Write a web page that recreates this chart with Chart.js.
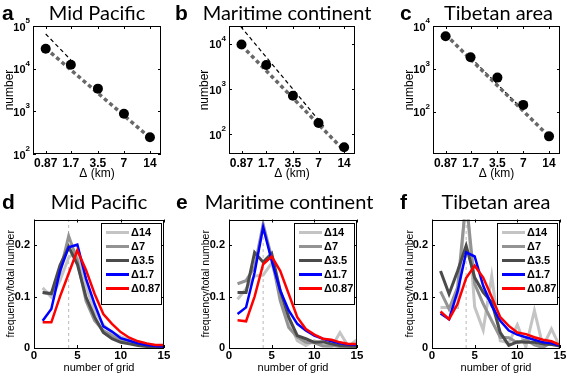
<!DOCTYPE html>
<html>
<head>
<meta charset="utf-8">
<title>Cloud number and size distribution</title>
<script src="https://cdn.jsdelivr.net/npm/chart.js@4.4.1/dist/chart.umd.min.js"></script>
<style>
  html, body { margin: 0; padding: 0; background: #fff; }
  #page { position: relative; width: 567px; height: 376px; overflow: hidden; background: #fff; }
  canvas { position: absolute; }
</style>
</head>
<body>
<div id="page">
  <canvas id="chart_a" width="172" height="180" style="left:0px;top:0px"></canvas>
  <canvas id="chart_b" width="210" height="180" style="left:172px;top:0px"></canvas>
  <canvas id="chart_c" width="205" height="180" style="left:362px;top:0px"></canvas>
  <canvas id="chart_d" width="172" height="196" style="left:0px;top:180px"></canvas>
  <canvas id="chart_e" width="210" height="196" style="left:172px;top:180px"></canvas>
  <canvas id="chart_f" width="205" height="196" style="left:362px;top:180px"></canvas>
</div>
<script>
// ---- top row: number of clouds against grid spacing ----
const delta_km = [0.87, 1.7, 3.5, 7, 14];
const delta_labels = ['0.87', '1.7', '3.5', '7', '14'];
const decades = [10, 100, 1000, 10000, 100000];

const number_mid_pacific = [29400, 12400, 3400, 880, 247];
const number_maritime = [9700, 3400, 710, 175, 51];
const number_tibet = [5800, 1880, 630, 146, 27];

// thick grey fitted line, value at 0.87 and at 14
const fit_delta = [0.87, 14];
const fit_mid_pacific = [30000, 240];
const fit_maritime = [9300, 43];
const fit_tibet = [6300, 27];

// thin black reference line
const ref_delta_mid_pacific = [0.87, 1.7];
const ref_mid_pacific = [65000, 16000];
const ref_delta_maritime = [0.85, 8.3];
const ref_maritime = [24500, 140];
const ref_delta_tibet = [1.7, 7];
const ref_tibet = [1850, 110];

const yrange_mid_pacific = [100, 100000];
const yrange_maritime = [36, 25100];
const yrange_tibet = [10.5, 10000];

// ---- bottom row: frequency against number of grid ----
const grid_number = [1, 2, 3, 4, 5, 6, 7, 8, 9, 10, 11, 12, 13, 14, 15];
const grid_ticks = [0, 5, 10, 15];
const freq_ticks = [0, 0.1, 0.2];
const freq_tick_labels = ['0', '0.1', '0.2'];
const freq_max = 0.25;
const peak_grid = 4;
const series_labels = ['\u039414', '\u03947', '\u03943.5', '\u03941.7', '\u03940.87'];

const mp_d14 = [0.117, 0.099, 0.131, 0.176, 0.19, 0.12, 0.072, 0.045, 0.03, 0.022, 0.016, 0.012, 0.008, 0.005, 0.0];
const mp_d7 = [0.108, 0.105, 0.147, 0.218, 0.17, 0.092, 0.053, 0.034, 0.024, 0.016, 0.011, 0.008, 0.006, 0.004, 0.002];
const mp_d35 = [0.108, 0.106, 0.161, 0.197, 0.163, 0.099, 0.06, 0.03, 0.018, 0.011, 0.008, 0.005, 0.003, 0.002, 0.002];
const mp_d17 = [0.053, 0.076, 0.15, 0.196, 0.201, 0.135, 0.085, 0.042, 0.032, 0.019, 0.014, 0.009, 0.006, 0.004, 0.003];
const mp_d087 = [0.05, 0.05, 0.10, 0.145, 0.19, 0.152, 0.105, 0.066, 0.047, 0.031, 0.02, 0.013, 0.009, 0.006, 0.006];

const mc_d14 = [0.095, 0.115, 0.14, 0.142, 0.165, 0.11, 0.053, 0.014, 0.005, 0.014, 0.005, 0.001, 0.03, 0.003, 0.016];
const mc_d7 = [0.125, 0.131, 0.157, 0.241, 0.176, 0.092, 0.04, 0.021, 0.011, 0.01, 0.004, 0.005, 0.003, 0.002, 0.005];
const mc_d35 = [0.108, 0.108, 0.186, 0.167, 0.184, 0.112, 0.06, 0.024, 0.018, 0.011, 0.012, 0.008, 0.005, 0.004, 0.003];
const mc_d17 = [0.066, 0.079, 0.147, 0.235, 0.17, 0.112, 0.073, 0.047, 0.034, 0.024, 0.018, 0.013, 0.009, 0.007, 0.006];
const mc_d087 = [0.054, 0.052, 0.10, 0.163, 0.178, 0.15, 0.105, 0.06, 0.037, 0.026, 0.018, 0.016, 0.011, 0.008, 0.008];

const tb_d14 = [0.079, 0.079, 0.079, 0.30, 0.08, 0.035, 0.14, 0.014, 0.01, 0.045, 0.002, 0.073, 0.003, 0.037, 0.002];
const tb_d7 = [0.11, 0.076, 0.118, 0.29, 0.125, 0.086, 0.053, 0.021, 0.02, 0.01, 0.016, 0.006, 0.001, 0.011, 0.003];
const tb_d35 = [0.15, 0.105, 0.15, 0.199, 0.137, 0.108, 0.089, 0.03, 0.005, 0.012, 0.011, 0.011, 0.008, 0.007, 0.004];
const tb_d17 = [0.067, 0.056, 0.11, 0.186, 0.178, 0.121, 0.082, 0.053, 0.034, 0.026, 0.021, 0.016, 0.011, 0.009, 0.005];
const tb_d087 = [0.071, 0.056, 0.086, 0.136, 0.16, 0.137, 0.099, 0.06, 0.043, 0.03, 0.027, 0.021, 0.016, 0.013, 0.006];

const FONT_AXIS = '"Liberation Sans", Arial, "DejaVu Sans", sans-serif';
const FONT_TITLE = 'Lato, "Open Sans", sans-serif';
const series_colors = ['#c4c4c4', '#939393', '#4b4b4b', '#0000ff', '#ff0000'];

function xy(xs, ys) {
  return xs.map((x, i) => ({x: x, y: ys[i]}));
}

// box, inward ticks, power-of-ten labels, panel letter and title
const panel_frame = {
  id: 'panel_frame',
  afterDraw(chart, args, opts) {
    const ctx = chart.ctx;
    const a = chart.chartArea;
    const sx = chart.scales.x, sy = chart.scales.y;
    ctx.save();
    ctx.strokeStyle = '#000';
    ctx.lineWidth = 1;
    ctx.beginPath();
    sx.ticks.forEach(t => {
      const px = Math.round(sx.getPixelForValue(t.value)) + 0.5;
      ctx.moveTo(px, a.bottom); ctx.lineTo(px, a.bottom - 3);
      ctx.moveTo(px, a.top); ctx.lineTo(px, a.top + 3);
    });
    sy.ticks.forEach(t => {
      const py = Math.round(sy.getPixelForValue(t.value)) + 0.5;
      ctx.moveTo(a.left, py); ctx.lineTo(a.left + 3, py);
      ctx.moveTo(a.right, py); ctx.lineTo(a.right - 3, py);
    });
    ctx.stroke();
    ctx.strokeRect(Math.round(a.left) + 0.5, Math.round(a.top) + 0.5,
                   Math.round(a.right - a.left) - 1, Math.round(a.bottom - a.top) - 1);

    ctx.fillStyle = '#000';
    if (opts.power_labels) {
      sy.ticks.forEach(t => {
        const py = sy.getPixelForValue(t.value);
        const expo = String(Math.round(Math.log10(t.value)));
        ctx.font = 'bold 8px ' + FONT_AXIS;
        const we = ctx.measureText(expo).width;
        ctx.textAlign = 'right';
        ctx.textBaseline = 'alphabetic';
        ctx.fillText(expo, a.left - 3, py - 3);
        ctx.font = 'bold 11px ' + FONT_AXIS;
        ctx.fillText('10', a.left - 3 - we, py + 4.5);
      });
    }

    ctx.textBaseline = 'alphabetic';
    ctx.textAlign = 'left';
    ctx.font = 'bold 21px ' + FONT_AXIS;
    ctx.fillText(opts.letter, opts.letter_x, opts.baseline);
    ctx.textAlign = 'center';
    ctx.font = '20px ' + FONT_TITLE;
    ctx.fillText(opts.title, (a.left + a.right) / 2 + opts.title_dx, opts.baseline);
    ctx.restore();
  }
};

// legend in a box, top right of the plot
const box_legend = {
  id: 'box_legend',
  afterDatasetsDraw(chart) {
    const ctx = chart.ctx;
    const a = chart.chartArea;
    const items = chart.data.datasets.filter(d => d.label);
    const w = 60, row = 14, h = items.length * row + 11;
    const x0 = Math.round(a.right - w - 3), y0 = Math.round(a.top + 3);
    ctx.save();
    ctx.fillStyle = '#fff';
    ctx.fillRect(x0, y0, w, h);
    ctx.strokeStyle = '#000';
    ctx.lineWidth = 1;
    ctx.strokeRect(x0 + 0.5, y0 + 0.5, w, h);
    ctx.font = 'bold 11px ' + FONT_AXIS;
    ctx.textBaseline = 'middle';
    items.forEach((d, i) => {
      const y = y0 + 9.5 + i * row;
      ctx.strokeStyle = d.borderColor;
      ctx.lineWidth = 3;
      ctx.beginPath();
      ctx.moveTo(x0 + 5, y); ctx.lineTo(x0 + 28, y);
      ctx.stroke();
      ctx.fillStyle = '#000';
      ctx.fillText(d.label, x0 + 30, y);
    });
    ctx.restore();
  }
};

function create_number_chart(canvas_id, p) {
  const data = {
    datasets: [
      { data: xy(delta_km, p.counts), showLine: false, pointRadius: 5, pointBackgroundColor: '#000',
        pointBorderWidth: 0, order: 1 },
      { data: xy(fit_delta, p.fit), borderColor: '#686868', borderWidth: 3.5, borderDash: [4, 3],
        pointRadius: 0, order: 2 },
      { data: xy(p.ref_x, p.ref_y), borderColor: '#000', borderWidth: 1.2, borderDash: [4, 3],
        pointRadius: 0, order: 3 }
    ]
  };

  const config = {
    type: 'line',
    data,
    options: {
      responsive: false,
      animation: false,
      events: [],
      layout: { padding: { top: 26, right: p.right, left: 0, bottom: 0 } },
      plugins: {
        legend: { display: false },
        tooltip: { enabled: false },
        panel_frame: { letter: p.letter, letter_x: p.letter_x, title: p.title, title_dx: p.title_dx,
                       baseline: 19.5, power_labels: true }
      },
      scales: {
        x: {
          type: 'logarithmic', min: 0.62, max: 18.8, bounds: 'data',
          afterBuildTicks: axis => { axis.ticks = delta_km.map(v => ({value: v})); },
          afterFit: axis => { axis.height = 26; axis.paddingLeft = 0; axis.paddingRight = 0; },
          grid: { display: false, drawTicks: false },
          border: { display: false },
          ticks: { autoSkip: false, maxRotation: 0, padding: 2.5, color: '#000',
                   font: { family: FONT_AXIS, size: 12, weight: 'bold' },
                   callback: (v, i) => delta_labels[i] },
          title: { display: true, text: '\u0394 (km)', color: '#000', padding: { top: 0, bottom: 0 },
                   font: { family: FONT_AXIS, size: 12, lineHeight: 1 } }
        },
        y: {
          type: 'logarithmic', min: p.yrange[0], max: p.yrange[1], bounds: 'data',
          afterBuildTicks: axis => {
            axis.ticks = decades.filter(v => v >= p.yrange[0] && v <= p.yrange[1]).map(v => ({value: v}));
          },
          afterFit: axis => { axis.width = p.yaxis; axis.paddingTop = 0; axis.paddingBottom = 0; },
          grid: { display: false, drawTicks: false },
          border: { display: false },
          ticks: { display: false },
          title: { display: true, text: 'number', color: '#000', padding: { top: p.title_pad, bottom: 0 },
                   font: { family: FONT_AXIS, size: 12, lineHeight: 1 } }
        }
      }
    },
    plugins: [panel_frame]
  };

  const canv = document.getElementById(canvas_id);
  new Chart(canv.getContext('2d'), config);
}

function create_freq_chart(canvas_id, p) {
  const datasets = p.series.map((vals, i) => ({
    label: series_labels[i],
    data: xy(grid_number, vals),
    borderColor: series_colors[i],
    borderWidth: i < 3 ? 3 : 2.5,
    pointRadius: 0,
    order: p.series.length - i
  }));
  datasets.push({
    label: '',
    data: xy([peak_grid, peak_grid], [0, freq_max]),
    borderColor: '#b9b9b9', borderWidth: 1, borderDash: [3, 3], pointRadius: 0, order: 10
  });

  const config = {
    type: 'line',
    data: { datasets },
    options: {
      responsive: false,
      animation: false,
      events: [],
      layout: { padding: { top: 39.5, right: p.right, left: 0, bottom: 0 } },
      plugins: {
        legend: { display: false },
        tooltip: { enabled: false },
        panel_frame: { letter: p.letter, letter_x: p.letter_x, title: p.title, title_dx: p.title_dx,
                       baseline: 28.5, power_labels: false }
      },
      scales: {
        x: {
          type: 'linear', min: 0, max: 15, bounds: 'data',
          afterBuildTicks: axis => { axis.ticks = grid_ticks.map(v => ({value: v})); },
          afterFit: axis => { axis.height = 28; axis.paddingLeft = 0; axis.paddingRight = 0; },
          grid: { display: false, drawTicks: false },
          border: { display: false },
          ticks: { autoSkip: false, maxRotation: 0, padding: 0.5, color: '#000',
                   font: { family: FONT_AXIS, size: 11.5, weight: 'bold' },
                   callback: (v, i) => String(grid_ticks[i]) },
          title: { display: true, text: 'number of grid', color: '#000', padding: { top: 0, bottom: 2.5 },
                   font: { family: FONT_AXIS, size: 11, lineHeight: 1 } }
        },
        y: {
          type: 'linear', min: 0, max: freq_max, bounds: 'data',
          afterBuildTicks: axis => { axis.ticks = freq_ticks.map(v => ({value: v})); },
          afterFit: axis => { axis.width = p.yaxis; axis.paddingTop = 0; axis.paddingBottom = 0; },
          grid: { display: false, drawTicks: false },
          border: { display: false },
          ticks: { autoSkip: false, padding: 4, color: '#000',
                   font: { family: FONT_AXIS, size: 11, weight: 'bold' },
                   callback: (v, i) => freq_tick_labels[i] },
          title: { display: true, text: 'frequency/total number', color: '#000',
                   padding: { top: p.title_pad, bottom: 0 },
                   font: { family: FONT_AXIS, size: 10.5, lineHeight: 1 } }
        }
      }
    },
    plugins: [panel_frame, box_legend]
  };

  const canv = document.getElementById(canvas_id);
  new Chart(canv.getContext('2d'), config);
}

create_number_chart('chart_a', { letter: 'a', letter_x: 2, title: 'Mid Pacific', title_dx: 0,
  counts: number_mid_pacific, fit: fit_mid_pacific, ref_x: ref_delta_mid_pacific, ref_y: ref_mid_pacific,
  yrange: yrange_mid_pacific, yaxis: 33, right: 11, title_pad: 4 });
create_number_chart('chart_b', { letter: 'b', letter_x: 3, title: 'Maritime continent', title_dx: -5,
  counts: number_maritime, fit: fit_maritime, ref_x: ref_delta_maritime, ref_y: ref_maritime,
  yrange: yrange_maritime, yaxis: 57, right: 27, title_pad: 27 });
create_number_chart('chart_c', { letter: 'c', letter_x: 38, title: 'Tibetan area', title_dx: 2,
  counts: number_tibet, fit: fit_tibet, ref_x: ref_delta_tibet, ref_y: ref_tibet,
  yrange: yrange_tibet, yaxis: 71, right: 7, title_pad: 42 });

create_freq_chart('chart_d', { letter: 'd', letter_x: 2, title: 'Mid Pacific', title_dx: 0,
  series: [mp_d14, mp_d7, mp_d35, mp_d17, mp_d087], yaxis: 34, right: 8, title_pad: 5.75 });
create_freq_chart('chart_e', { letter: 'e', letter_x: 4, title: 'Maritime continent', title_dx: -4,
  series: [mc_d14, mc_d7, mc_d35, mc_d17, mc_d087], yaxis: 57, right: 25, title_pad: 28.5 });
create_freq_chart('chart_f', { letter: 'f', letter_x: 38, title: 'Tibetan area', title_dx: 0,
  series: [tb_d14, tb_d7, tb_d35, tb_d17, tb_d087], yaxis: 70, right: 7, title_pad: 42.75 });
</script>
</body>
</html>
